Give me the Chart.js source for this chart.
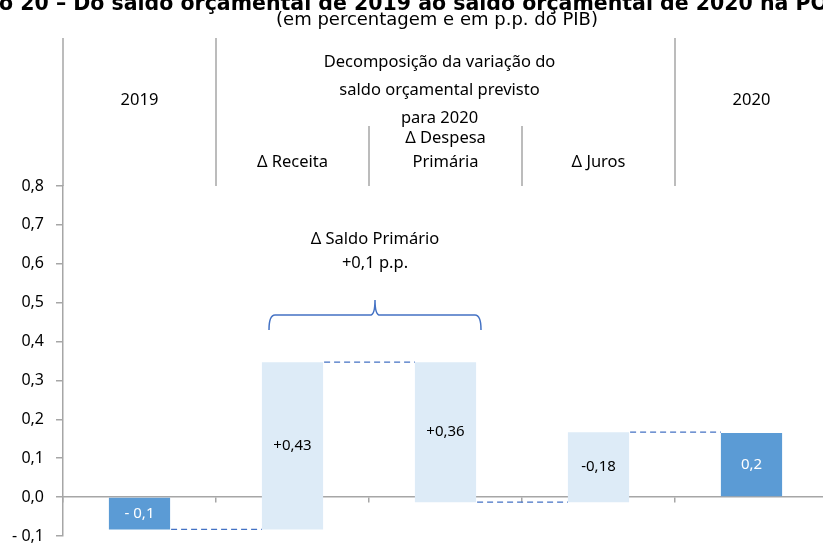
<!DOCTYPE html>
<html lang="pt">
<head>
<meta charset="utf-8">
<script src="https://cdn.jsdelivr.net/npm/chart.js@4.4.0/dist/chart.umd.min.js"></script>
<style>
  html, body { margin: 0; padding: 0; background: #fff; overflow: hidden; }
  #wrap { width: 830px; height: 544px; }
</style>
</head>
<body>
<div id="wrap"><canvas id="myChart" width="830" height="544"></canvas></div>
<script>
// saldo orçamental em % do PIB e contributos (p.p.) da variação prevista para 2020
let categorias = ['2019', 'Δ Receita', 'Δ Despesa Primária', 'Δ Juros', '2020'];
let saldo2019 = -0.083;
let saldo2020 = 0.165;
let variacoes = [0.43, 0.36, -0.18];   // variação de cada rubrica
let efeitoNoSaldo = [1, -1, -1];       // receita soma ao saldo, despesa e juros subtraem
let yTicks = [-0.1, 0, 0.1, 0.2, 0.3, 0.4, 0.5, 0.6, 0.7, 0.8];

let corSaldo = '#5B9BD5';
let corVariacao = '#DDEBF7';
let corEixo = '#A6A6A6';
let corLigacao = '#4472C4';
let fonte = '"Noto Sans"';

function virgula(v, casas) {
  return Math.abs(v).toFixed(casas).replace('.', ',');
}
function fmtSaldo(v) {
  return (v < 0 ? '- ' : '') + virgula(v, 1);
}
function fmtVariacao(v) {
  return (v < 0 ? '-' : '+') + virgula(v, 2);
}

// barras flutuantes: totais a partir de zero, variações a partir do nível anterior
let barras = [[0, saldo2019]];
let rotulos = [fmtSaldo(saldo2019)];
let cores = [corSaldo];
let nivel = saldo2019;
for (let i = 0; i < variacoes.length; i++) {
  let fim = nivel + efeitoNoSaldo[i] * variacoes[i];
  barras.push([nivel, fim]);
  rotulos.push(fmtVariacao(variacoes[i]));
  cores.push(corVariacao);
  nivel = fim;
}
barras.push([0, saldo2020]);
rotulos.push(fmtSaldo(saldo2020));
cores.push(corSaldo);

let saldoPrimario = efeitoNoSaldo[0] * variacoes[0] + efeitoNoSaldo[1] * variacoes[1];

const anotacoes = {
  id: 'anotacoes',
  afterDraw(chart) {
    let ctx = chart.ctx;
    let x = chart.scales.x;
    let y = chart.scales.y;
    let area = chart.chartArea;
    let meta = chart.getDatasetMeta(0);
    let limite = i => (x.getPixelForTick(i) + x.getPixelForTick(i + 1)) / 2;
    let centro = i => x.getPixelForTick(i);

    ctx.save();

    // título (cortado no topo) e subtítulo
    ctx.fillStyle = '#000';
    ctx.font = 'bold 20.5px "DejaVu Sans"';
    ctx.textBaseline = 'alphabetic';
    ctx.textAlign = 'left';
    let titulo = 'Gráfico 20 – Do saldo orçamental de 2019 ao saldo orçamental de 2020 na POE/2020';
    ctx.fillText(titulo, -ctx.measureText('Gráfic').width - 1, 10);
    ctx.font = '18px "DejaVu Sans"';
    ctx.textAlign = 'center';
    ctx.textBaseline = 'middle';
    ctx.fillText('(em percentagem e em p.p. do PIB)', 437, 20);

    // separadores do cabeçalho
    ctx.strokeStyle = corEixo;
    ctx.lineWidth = 1.5;
    let linhas = [[area.left, 38], [limite(0), 38], [limite(3), 38], [limite(1), 126], [limite(2), 126]];
    linhas.forEach(([lx, topo]) => {
      ctx.beginPath();
      ctx.moveTo(lx, topo);
      ctx.lineTo(lx, area.top);
      ctx.stroke();
    });

    // textos do cabeçalho
    ctx.font = '16.5px ' + fonte;
    ctx.fillStyle = '#000';
    ctx.fillText(categorias[0], centro(0), 100);
    ctx.fillText(categorias[4], centro(4), 100);
    let meioGrupo = (limite(0) + limite(3)) / 2 - 6;
    ctx.fillText('Decomposição da variação do', meioGrupo, 62);
    ctx.fillText('saldo orçamental previsto', meioGrupo, 90);
    ctx.fillText('para 2020', meioGrupo, 118);
    ctx.fillText(categorias[1], centro(1), 162);
    ctx.fillText('Δ Despesa', centro(2), 138);
    ctx.fillText('Primária', centro(2), 162);
    ctx.fillText(categorias[3], centro(3), 162);

    // chaveta do saldo primário
    let cx = limite(1) + 6;
    let esq = cx - 106, dir = cx + 106;
    let yBase = y.getPixelForValue(0.43);
    let yBarra = y.getPixelForValue(0.468);
    let yPonta = y.getPixelForValue(0.507);
    ctx.strokeStyle = corLigacao;
    ctx.lineWidth = 1.5;
    ctx.beginPath();
    ctx.moveTo(esq, yBase);
    ctx.quadraticCurveTo(esq, yBarra, esq + 6, yBarra);
    ctx.lineTo(cx - 5, yBarra);
    ctx.quadraticCurveTo(cx, yBarra, cx, yPonta);
    ctx.quadraticCurveTo(cx, yBarra, cx + 5, yBarra);
    ctx.lineTo(dir - 6, yBarra);
    ctx.quadraticCurveTo(dir, yBarra, dir, yBase);
    ctx.stroke();
    ctx.fillStyle = '#000';
    ctx.fillText('Δ Saldo Primário', cx, y.getPixelForValue(0.662));
    ctx.fillText('+' + virgula(saldoPrimario, 1) + ' p.p.', cx, y.getPixelForValue(0.6));

    // ligações tracejadas entre barras
    ctx.strokeStyle = corLigacao;
    ctx.lineWidth = 1.3;
    ctx.setLineDash([6, 4]);
    for (let i = 0; i < barras.length - 1; i++) {
      let a = meta.data[i].getProps(['x', 'width'], true);
      let b = meta.data[i + 1].getProps(['x', 'width'], true);
      let ly = y.getPixelForValue(barras[i][1]);
      ctx.beginPath();
      ctx.moveTo(a.x + a.width / 2 + 1, ly);
      ctx.lineTo(b.x - b.width / 2, ly);
      ctx.stroke();
    }
    ctx.setLineDash([]);

    // valores dentro das barras
    ctx.font = '15px ' + fonte;
    for (let i = 0; i < barras.length; i++) {
      let p = meta.data[i].getProps(['x'], true);
      let meio = (barras[i][0] + barras[i][1]) / 2;
      ctx.fillStyle = cores[i] === corSaldo ? '#fff' : '#000';
      ctx.fillText(rotulos[i], p.x, y.getPixelForValue(meio));
    }

    ctx.restore();
  }
};

let ctx = document.getElementById('myChart').getContext('2d');
let myChart = new Chart(ctx, {
  type: 'bar',
  data: {
    labels: categorias,
    datasets: [{
      data: barras,
      backgroundColor: cores,
      borderWidth: 0,
      barPercentage: 0.4,
      categoryPercentage: 1
    }]
  },
  options: {
    responsive: false,
    animation: false,
    devicePixelRatio: 1,
    layout: { padding: { top: 186, right: 2, bottom: 8, left: 0 } },
    plugins: {
      legend: { display: false },
      tooltip: { enabled: false }
    },
    scales: {
      x: {
        position: { y: 0 },
        afterFit: s => {
          s.height = 0;
          s.paddingLeft = s.paddingRight = s.paddingTop = s.paddingBottom = 0;
        },
        grid: { offset: true, drawOnChartArea: false, drawTicks: true, tickLength: 5, color: corEixo, lineWidth: 1.5 },
        border: { color: corEixo, width: 1.5 },
        ticks: { display: false }
      },
      y: {
        min: -0.1,
        max: 0.8,
        afterFit: s => {
          s.width = 63;
          s.paddingTop = 0;
          s.paddingBottom = 0;
        },
        afterBuildTicks: s => { s.ticks = yTicks.map(v => ({ value: v })); },
        grid: { drawOnChartArea: false, drawTicks: true, tickLength: 7, color: corEixo, lineWidth: 1.5 },
        border: { color: corEixo, width: 1.5 },
        ticks: {
          padding: 12,
          color: '#000',
          font: { family: 'Noto Sans', size: 16 },
          callback: v => fmtSaldo(v)
        }
      }
    }
  },
  plugins: [anotacoes]
});
</script>
</body>
</html>
